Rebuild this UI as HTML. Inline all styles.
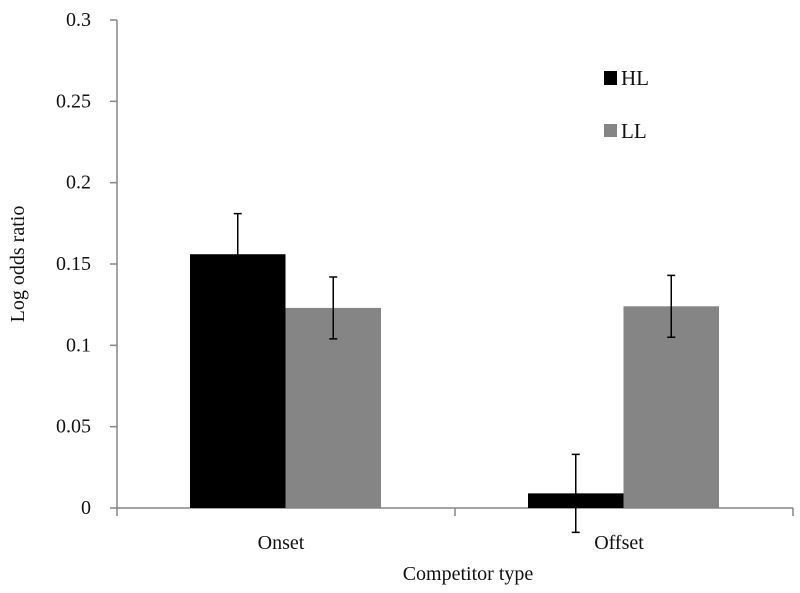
<!DOCTYPE html>
<html><head><meta charset="utf-8"><style>
body{margin:0;background:#fff}
svg text{font-family:"Liberation Serif",serif;fill:#111}
</style></head><body>
<svg width="800" height="593" viewBox="0 0 800 593" id="c" style="position:absolute;left:0;top:0">
<g id="plot"></g>
</svg>
<script>
const categories=["Onset","Offset"];
const series=["HL","LL"];
const hlValues=[0.156,0.009];
const llValues=[0.123,0.124];
const hlErr=[0.025,0.024];
const llErr=[0.019,0.019];
const yTicks=[0,0.05,0.1,0.15,0.2,0.25,0.3];
const yTickLabels=["0","0.05","0.1","0.15","0.2","0.25","0.3"];
const NS="http://www.w3.org/2000/svg";
const g=document.getElementById('plot');
const x0=117,x1=793,yBase=508,yTop=20;
function y(v){return yBase-(v/0.3)*(yBase-yTop);}
const catW=(x1-x0)/categories.length;
function bx(ci,si){return x0+ci*catW+73+si*95.5;}
function mk(t,a){const e=document.createElementNS(NS,t);for(const k in a)e.setAttribute(k,a[k]);g.appendChild(e);return e;}
let e;
e=mk('line',{x1:x0,y1:yTop,x2:x0,y2:yBase+1,stroke:'#868686','stroke-width':1.5});


e=mk('line',{x1:x0,y1:yBase,x2:x1,y2:yBase,stroke:'#868686','stroke-width':1.5});


yTicks.forEach((v,i)=>{
 e=mk('line',{x1:x0-7,y1:y(v),x2:x0,y2:y(v),stroke:'#868686','stroke-width':1.5});
 
 
 e=mk('text',{x:x0-26,y:y(v)+6,'text-anchor':'end','font-size':20});
 e.textContent=yTickLabels[i];
 
 
});
for(let i=0;i<=categories.length;i++){
 e=mk('line',{x1:x0+i*catW,y1:yBase,x2:x0+i*catW,y2:yBase+8,stroke:'#868686','stroke-width':1.5});
 
 
}
categories.forEach((c,ci)=>{
 e=mk('text',{x:x0+ci*catW+catW/2-5,y:549,'text-anchor':'middle','font-size':20});
 e.textContent=c;
 
 
 [[hlValues,hlErr,'#000'],[llValues,llErr,'#858585']].forEach((s,si)=>{
  const v=s[0][ci],er=s[1][ci],X=bx(ci,si);
  e=mk('rect',{x:X,y:y(v),width:95.5,height:yBase-y(v),fill:s[2]});
  
  
  const cx=X+47.75;
  e=mk('path',{d:`M${cx},${y(v+er)}V${y(v-er)}M${cx-4},${y(v+er)}H${cx+4}M${cx-4},${y(v-er)}H${cx+4}`,stroke:'#000','stroke-width':1.5,fill:'none'});
  
  
 });
});
</script>
<svg width="800" height="593" style="position:absolute;left:0;top:0">
<rect x="604" y="71" width="13" height="14" fill="#000"/>
<text x="621" y="85" font-size="21">HL</text>
<rect x="604" y="124" width="13" height="13" fill="#858585"/>
<text x="621" y="138" font-size="21">LL</text>
<text x="468" y="580" font-size="20" text-anchor="middle">Competitor type</text>
<text x="0" y="0" font-size="20" text-anchor="middle" transform="translate(24,264) rotate(-90)">Log odds ratio</text>
</svg>
</body></html>
